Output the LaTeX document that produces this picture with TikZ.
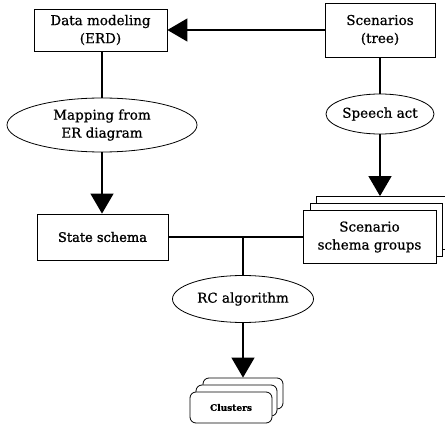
\documentclass[tikz,border=0pt]{standalone}
\usepackage{fontspec}
\setmainfont{DejaVu Serif}[FakeBold=0.7]
\newfontfamily\boldish{DejaVu Serif}[FakeBold=1.6]
\usetikzlibrary{arrows.meta,shapes.geometric}
\tikzset{
  box/.style={draw=black, line width=0.8pt, fill=white, inner sep=0pt, align=center,
    font=\fontsize{13.5}{18}\selectfont},
  oval/.style={draw=black, line width=0.8pt, ellipse, inner sep=0pt, align=center,
    font=\fontsize{13.5}{18}\selectfont},
  rbox/.style={draw=black, line width=0.8pt, fill=white, rounded corners=6pt, inner sep=0pt},
  conn/.style={draw=black, line width=1.3pt},
  arr/.style={conn, -{Triangle[length=20pt,width=23pt]}}
}
\begin{document}
\begin{tikzpicture}[x=1pt,y=-1pt]
\useasboundingbox (0,0) rectangle (445,425);
% top boxes
\node[box, minimum width=133pt, minimum height=42pt] (dm) at (100.5,30) {Data modeling\\(ERD)};
\node[box, minimum width=110pt, minimum height=54pt] (sc) at (380,30) {Scenarios\\(tree)};
% ellipses
\node[oval, minimum width=190pt, minimum height=54pt] (map) at (102,125) {Mapping from\\ER diagram};
\node[oval, minimum width=108pt, minimum height=40pt] (sp) at (380,114) {Speech act};
% state schema
\node[box, minimum width=131pt, minimum height=46pt, font=\fontsize{13}{18}\selectfont\boldish] (st) at (102.5,237) {State schema};
% scenario schema groups stack
\node[box, minimum width=132pt, minimum height=53pt] (sg3) at (382,223) {};
\node[box, minimum width=132pt, minimum height=53pt] (sg2) at (376,230) {};
\node[box, minimum width=133pt, minimum height=53pt] (sg) at (369.5,237) {Scenario\\schema groups};
% RC algorithm
\node[oval, minimum width=141pt, minimum height=47pt] (rc) at (243,299) {RC algorithm};
% clusters stack
\node[rbox, minimum width=80pt, minimum height=31pt] (cl3) at (243,393.5) {};
\node[rbox, minimum width=81pt, minimum height=31pt] (cl2) at (236.5,400.5) {};
\node[rbox, minimum width=82pt, minimum height=31pt, font=\fontsize{9}{11}\selectfont\bfseries] (cl) at (231,407.5) {Clusters};
% connectors
\coordinate (j) at (243,237);
\draw[arr] (sc.west) -- (dm.east);
\draw[conn] (dm.south -| map.north) -- (map.north);
\draw[arr] (map.south) -- (map.south |- st.north);
\draw[conn] (sc.south) -- (sp.north);
\draw[arr] (sp.south) -- (sp.south |- sg3.north);
\draw[conn] (st.east) -- (sg.west);
\draw[conn] (j) -- (rc.north);
\draw[arr] (rc.south) -- (rc.south |- cl3.north);
\end{tikzpicture}
\end{document}
